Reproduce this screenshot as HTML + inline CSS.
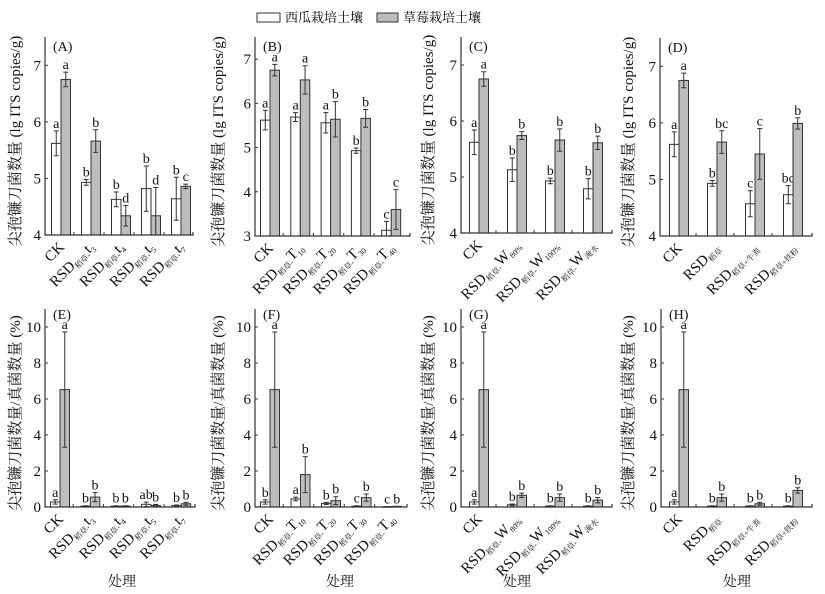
<!DOCTYPE html>
<html><head><meta charset="utf-8">
<style>
body{margin:0;background:#fff;}
svg{display:block;font-family:"Liberation Serif","Noto Serif CJK SC","Noto Sans CJK SC",serif;}
</style></head>
<body>
<svg id="chart" width="825" height="594" viewBox="0 0 825 594" xmlns="http://www.w3.org/2000/svg">
  <g>
    <rect x="257" y="13" width="23" height="9" fill="#fff" stroke="#333"/>
    <text x="285" y="22" font-size="13">西瓜栽培土壤</text>
    <rect x="377" y="13" width="21" height="9" fill="#bdbdbd" stroke="#333"/>
    <text x="403" y="22" font-size="13">草莓栽培土壤</text>
  </g>
</svg>
<script>
// ---- data ----
const catsA = [["CK",""],["RSD","稻草-t","3"],["RSD","稻草-t","4"],["RSD","稻草-t","5"],["RSD","稻草-t","7"]];
const catsB = [["CK",""],["RSD","稻草-T","10"],["RSD","稻草-T","20"],["RSD","稻草-T","30"],["RSD","稻草-T","40"]];
const catsC = [["CK",""],["RSD","稻草-W","80%"],["RSD","稻草-W","100%"],["RSD","稻草-W","淹水"]];
const catsD = [["CK",""],["RSD","稻草",""],["RSD","稻草+牛粪",""],["RSD","稻草+铁粉",""]];

const aWhite=[5.62,4.93,4.63,4.82,4.64], aWhiteErr=[0.22,0.05,0.13,0.40,0.38];
const aGray=[6.75,5.66,4.34,4.34,4.86], aGrayErr=[0.13,0.20,0.18,0.50,0.04];
const aWL=["a","b","b","b","b"], aGL=["a","b","d","d","c"];

const bWhite=[5.62,5.69,5.56,4.93,3.13], bWhiteErr=[0.22,0.10,0.23,0.06,0.20];
const bGray=[6.75,6.53,5.64,5.66,3.60], bGrayErr=[0.13,0.32,0.40,0.20,0.45];
const bWL=["a","a","a","b","c"], bGL=["a","a","b","b","c"];

const cWhite=[5.62,5.13,4.93,4.79], cWhiteErr=[0.22,0.21,0.05,0.18];
const cGray=[6.75,5.74,5.66,5.61], cGrayErr=[0.13,0.07,0.20,0.12];
const cWL=["a","b","b","b"], cGL=["a","b","b","b"];

const dWhite=[5.62,4.93,4.57,4.73], dWhiteErr=[0.22,0.05,0.23,0.16];
const dGray=[6.75,5.66,5.45,5.99], dGrayErr=[0.13,0.20,0.45,0.10];
const dWL=["a","b","c","bc"], dGL=["a","bc","c","b"];

const eWhite=[0.28,0.05,0.05,0.15,0.08], eWhiteErr=[0.12,0.02,0.02,0.12,0.03];
const eGray=[6.52,0.55,0.05,0.08,0.18], eGrayErr=[3.2,0.25,0.02,0.06,0.08];
const eWL=["a","b","b","ab","b"], eGL=["a","b","b","b","b"];

const fWhite=[0.28,0.45,0.20,0.05,0.02], fWhiteErr=[0.12,0.10,0.06,0.02,0.01];
const fGray=[6.52,1.80,0.35,0.52,0.03], fGrayErr=[3.2,1.0,0.22,0.20,0.01];
const fWL=["b","a","b","c","c"], fGL=["a","b","b","b","b"];

const gWhite=[0.28,0.12,0.05,0.05], gWhiteErr=[0.12,0.05,0.02,0.02];
const gGray=[6.52,0.65,0.52,0.38], gGrayErr=[3.2,0.12,0.20,0.15];
const gWL=["a","b","b","b"], gGL=["a","b","b","b"];

const hWhite=[0.28,0.05,0.05,0.05], hWhiteErr=[0.12,0.02,0.02,0.02];
const hGray=[6.52,0.52,0.18,0.92], hGrayErr=[3.2,0.20,0.08,0.15];
const hWL=["a","b","b","b"], hGL=["a","b","b","b"];

const ticksTop=[4,5,6,7], ticksB=[3,4,5,6,7], ticksBottom=[0,2,4,6,8,10];

const NS="http://www.w3.org/2000/svg";
const svg=document.getElementById('chart');
function mk(tag,attrs,parent){const e=document.createElementNS(NS,tag);for(const k in attrs)e.setAttribute(k,attrs[k]);(parent||svg).appendChild(e);return e;}

const panels=[
 {id:"A",x0:45,x1:193,yBot:235,yTop:37,vmin:4,vmax:7.5,ticks:ticksTop,c0:61,step:30,cats:catsA,w:aWhite,we:aWhiteErr,g:aGray,ge:aGrayErr,wl:aWL,gl:aGL,ytitle:"尖孢镰刀菌数量 (lg ITS copies/g)",tx:20,xl:false},
 {id:"B",x0:255,x1:410,yBot:236,yTop:37,vmin:3,vmax:7.5,ticks:ticksB,c0:270,step:30.3,cats:catsB,w:bWhite,we:bWhiteErr,g:bGray,ge:bGrayErr,wl:bWL,gl:bGL,ytitle:"尖孢镰刀菌数量 (lg ITS copies/g)",tx:223,xl:false},
 {id:"C",x0:461,x1:612,yBot:233,yTop:37,vmin:4,vmax:7.5,ticks:ticksTop,c0:479,step:38,cats:catsC,w:cWhite,we:cWhiteErr,g:cGray,ge:cGrayErr,wl:cWL,gl:cGL,ytitle:"尖孢镰刀菌数量 (lg ITS copies/g)",tx:433,xl:false},
 {id:"D",x0:660,x1:812,yBot:236,yTop:38,vmin:4,vmax:7.5,ticks:ticksTop,c0:679,step:38,cats:catsD,w:dWhite,we:dWhiteErr,g:dGray,ge:dGrayErr,wl:dWL,gl:dGL,ytitle:"尖孢镰刀菌数量 (lg ITS copies/g)",tx:633,xl:false},
 {id:"E",x0:45,x1:195,yBot:507,yTop:309,vmin:0,vmax:11,ticks:ticksBottom,c0:60,step:30.3,cats:catsA,w:eWhite,we:eWhiteErr,g:eGray,ge:eGrayErr,wl:eWL,gl:eGL,ytitle:"尖孢镰刀菌数量/真菌数量 (%)",tx:20,xl:true,xlx:122},
 {id:"F",x0:255,x1:407,yBot:507,yTop:309,vmin:0,vmax:11,ticks:ticksBottom,c0:270,step:30.5,cats:catsB,w:fWhite,we:fWhiteErr,g:fGray,ge:fGrayErr,wl:fWL,gl:fGL,ytitle:"尖孢镰刀菌数量/真菌数量 (%)",tx:223,xl:true,xlx:340},
 {id:"G",x0:461,x1:612,yBot:507,yTop:309,vmin:0,vmax:11,ticks:ticksBottom,c0:479,step:38,cats:catsC,w:gWhite,we:gWhiteErr,g:gGray,ge:gGrayErr,wl:gWL,gl:gGL,ytitle:"尖孢镰刀菌数量/真菌数量 (%)",tx:433,xl:true,xlx:517},
 {id:"H",x0:661,x1:812,yBot:507,yTop:309,vmin:0,vmax:11,ticks:ticksBottom,c0:679,step:38,cats:catsD,w:hWhite,we:hWhiteErr,g:hGray,ge:hGrayErr,wl:hWL,gl:hGL,ytitle:"尖孢镰刀菌数量/真菌数量 (%)",tx:633,xl:true,xlx:737}
];

panels.forEach(p=>{
  const grp=mk('g',{});
  
  
  const y=v=>p.yBot-(v-p.vmin)/(p.vmax-p.vmin)*(p.yBot-p.yTop);
  const xc=i=>p.c0+i*p.step;
  const bw=9.5;
  const drawBar=(i,v,e,lab,isGray)=>{
    const x=isGray?xc(i):xc(i)-bw;
    const top=y(v);
    const r=mk('rect',{x:x,y:top,width:bw,height:Math.max(0.5,p.yBot-top),fill:isGray?'#bdbdbd':'#fff',stroke:'#333','stroke-width':1},grp);
    
    
    const cx=x+bw/2, yt=y(v+e), yb=Math.min(p.yBot,y(v-e));
    const eb=mk('path',{d:`M${cx},${yt}V${yb}M${cx-2.5},${yt}H${cx+2.5}M${cx-2.5},${yb}H${cx+2.5}`,stroke:'#333','stroke-width':1,fill:'none'},grp);
    
    
    const t=mk('text',{x:cx,y:yt-3,'font-size':14,'text-anchor':'middle',fill:'#111'},grp);
    t.textContent=lab;
    
    
  };
  p.w.forEach((v,i)=>drawBar(i,v,p.we[i],p.wl[i],false));
  p.g.forEach((v,i)=>drawBar(i,v,p.ge[i],p.gl[i],true));
  const ax=mk('path',{d:`M${p.x0},${p.yTop}V${p.yBot}H${p.x1}V${p.yBot-3}`,stroke:'#333','stroke-width':1.2,fill:'none'},grp);
  
  
  p.ticks.forEach(tv=>{
    const ty=y(tv);
    const tk=mk('line',{x1:p.x0,x2:p.x0+3,y1:ty,y2:ty,stroke:'#333'},grp);
    
    
    const tl=mk('text',{x:p.x0-4,y:ty+5,'font-size':15,'text-anchor':'end',fill:'#111'},grp);
    tl.textContent=tv;
    
    
  });
  for(let i=1;i<p.cats.length;i++){
    const tx=xc(i)-p.step/2-2;
    const tk=mk('line',{x1:tx,x2:tx,y1:p.yBot,y2:p.yBot-3,stroke:'#333'},grp);
    
    
  }
  const pl=mk('text',{x:p.x0+8,y:p.yTop+(p.xl?10:14),'font-size':14,fill:'#111'},grp);
  pl.textContent='('+p.id+')';
  
  
  p.cats.forEach((c,i)=>{
    const ex=xc(i)+4, ey=p.yBot+13;
    const t=mk('text',{x:ex,y:ey,'font-size':15,'text-anchor':'end',transform:`rotate(-45 ${ex} ${ey})`,fill:'#111'},grp);
    
    
    const s1=mk('tspan',{},t); s1.textContent=c[0];
    if(c[1]){
      const s2=mk('tspan',{'font-size':8,dy:3},t); s2.textContent=c[1];
      if(c[2]){
        s2.textContent=c[1].slice(0,-1);
        const s3=mk('tspan',{'font-size':15,dy:-3},t); s3.textContent=c[1].slice(-1);
        const s4=mk('tspan',{'font-size':8,dy:3},t); s4.textContent=c[2];
      }
    }
  });
  const cy=(p.yTop+p.yBot)/2+5;
  const yt=mk('text',{x:p.tx,y:cy,'font-size':15,'text-anchor':'middle',transform:`rotate(-90 ${p.tx} ${cy})`,fill:'#111'},grp);
  yt.textContent=p.ytitle;
  
  
  if(p.xl){
    const xt=mk('text',{x:p.xlx,y:586,'font-size':14,'text-anchor':'middle',fill:'#111'},grp);
    xt.textContent='处理';
    
    
  }
});
</script>
</body></html>
